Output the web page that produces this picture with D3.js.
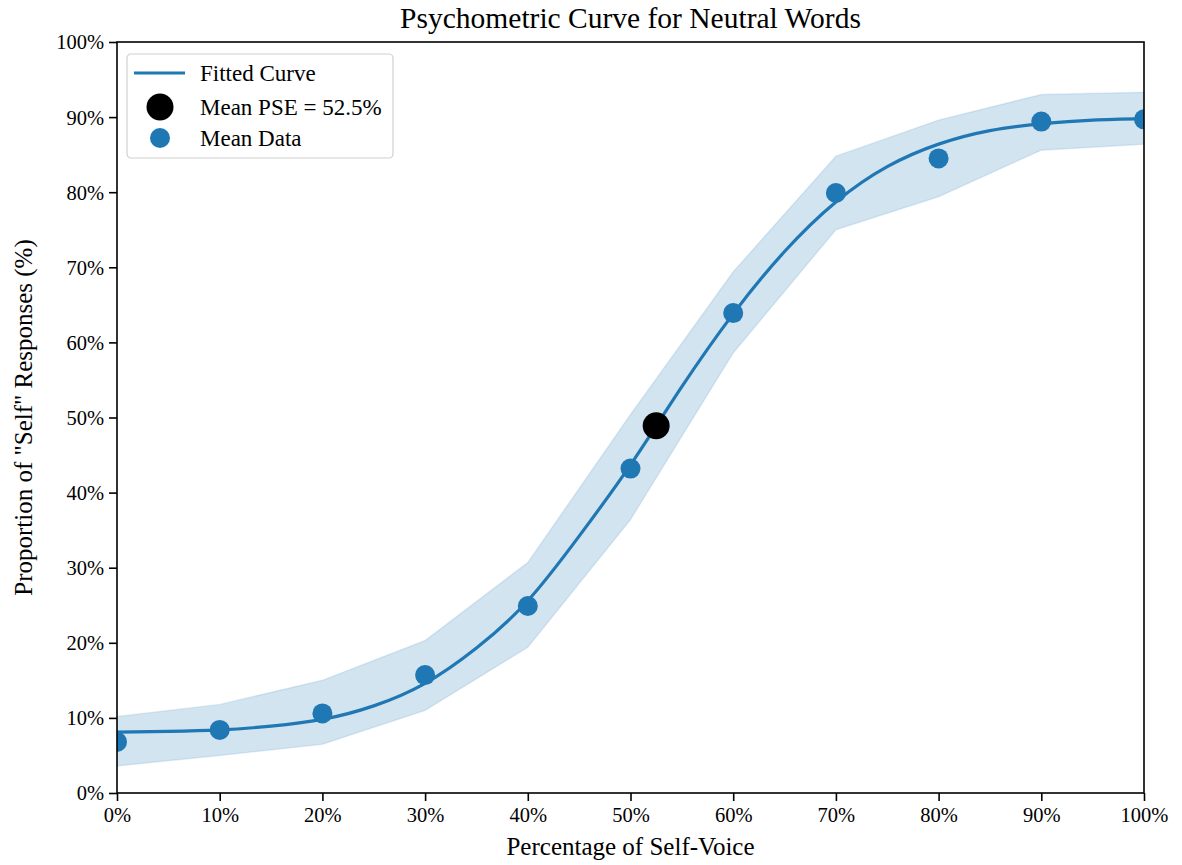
<!DOCTYPE html>
<html>
<head>
<meta charset="utf-8">
<script src="https://cdn.jsdelivr.net/npm/d3@7"></script>
<style>
  body { margin: 0; background: #fff; }
  svg text { font-family: "Liberation Serif", "Times New Roman", serif; fill: #000; }
</style>
</head>
<body>
<div id="chart"></div>
<script>
// Stimulus levels (percentage of self-voice)
var levels = [0, 10, 20, 30, 40, 50, 60, 70, 80, 90, 100];
// Mean proportion of "self" responses at each level
var meanData = [6.8, 8.4, 10.6, 15.7, 24.9, 43.2, 63.9, 79.9, 84.5, 89.4, 89.7];
// Confidence band around the curve
var bandUpper = [10.2, 11.8, 15.0, 20.3, 30.7, 50.4, 69.4, 84.8, 89.6, 93.0, 93.3];
var bandLower = [3.6, 5.0, 6.5, 11.0, 19.4, 36.4, 58.6, 75.0, 79.4, 85.6, 86.4];
// Fitted curve
var fitX = [0, 5, 10, 15, 20, 25, 30, 35, 40, 45, 50, 55, 60, 65, 70, 75, 80, 85, 90, 95, 100];
var fitY = [8.1, 8.2, 8.4, 8.9, 9.8, 11.6, 14.6, 19.3, 25.6, 34.2, 43.7, 54.1, 63.8, 72.1, 78.7, 83.4, 86.4, 88.2, 89.1, 89.6, 89.8];
// Point of subjective equality
var pseX = 52.5, pseY = 48.9;
var ticks = [0, 10, 20, 30, 40, 50, 60, 70, 80, 90, 100];

var svgWidth = 1182;
var svgHeight = 865;
var margin = { top: 42, right: 38, bottom: 72, left: 117 };
var chartWidth = svgWidth - margin.left - margin.right;
var chartHeight = svgHeight - margin.top - margin.bottom;
var blue = "#1f77b4";

var svg = d3.select("#chart")
  .append("svg")
  .attr("width", svgWidth)
  .attr("height", svgHeight);

var chartGroup = svg.append("g")
  .attr("transform", `translate(${margin.left}, ${margin.top})`);

chartGroup.append("clipPath")
  .attr("id", "plot-clip")
  .append("rect")
  .attr("width", chartWidth)
  .attr("height", chartHeight);

var xScale = d3.scaleLinear().domain([0, 100]).range([0, chartWidth]);
var yScale = d3.scaleLinear().domain([0, 100]).range([chartHeight, 0]);

var plot = chartGroup.append("g").attr("clip-path", "url(#plot-clip)");

// band
var area = d3.area()
  .x((d, i) => xScale(levels[i]))
  .y0((d, i) => yScale(bandLower[i]))
  .y1((d, i) => yScale(bandUpper[i]));

plot.append("path")
  .datum(levels)
  .attr("d", area)
  .attr("fill", blue)
  .attr("fill-opacity", 0.2)
  .attr("stroke", blue)
  .attr("stroke-opacity", 0.12)
  .attr("stroke-width", 1.5);

// fitted curve
var line = d3.line()
  .x(d => xScale(d[0]))
  .y(d => yScale(d[1]))
  .curve(d3.curveNatural);

plot.append("path")
  .datum(fitX.map((x, i) => [x, fitY[i]]))
  .attr("d", line)
  .attr("fill", "none")
  .attr("stroke", blue)
  .attr("stroke-width", 3.2);

// mean data points
plot.selectAll("circle.mean")
  .data(levels)
  .enter()
  .append("circle")
  .attr("class", "mean")
  .attr("cx", d => xScale(d))
  .attr("cy", (d, i) => yScale(meanData[i]))
  .attr("r", 10)
  .attr("fill", blue);

// PSE marker
plot.append("circle")
  .attr("cx", xScale(pseX))
  .attr("cy", yScale(pseY))
  .attr("r", 13.5)
  .attr("fill", "#000");

// axes
var bottomAxis = d3.axisBottom(xScale)
  .tickValues(ticks)
  .tickFormat(d => d + "%")
  .tickSizeOuter(0)
  .tickSize(8)
  .tickPadding(5);
var leftAxis = d3.axisLeft(yScale)
  .tickValues(ticks)
  .tickFormat(d => d + "%")
  .tickSizeOuter(0)
  .tickSize(8)
  .tickPadding(5);

var xAxis = chartGroup.append("g")
  .attr("transform", `translate(0, ${chartHeight})`)
  .call(bottomAxis);
var yAxis = chartGroup.append("g")
  .call(leftAxis);

[xAxis, yAxis].forEach(function(ax) {
  ax.select(".domain").remove();
  ax.selectAll("line").attr("stroke", "#000").attr("stroke-width", 1.6);
  ax.selectAll("text")
    .attr("fill", "#000")
    .style("font-size", "20.5px")
    .style("font-family", "'Liberation Serif', serif");
});
yAxis.selectAll("text").attr("dy", "0.34em");
xAxis.selectAll("text").attr("dy", "0.76em");

// frame
chartGroup.append("rect")
  .attr("width", chartWidth)
  .attr("height", chartHeight)
  .attr("fill", "none")
  .attr("stroke", "#000")
  .attr("stroke-width", 1.6);

// title and labels
svg.append("text")
  .attr("x", margin.left + chartWidth / 2)
  .attr("y", 27.5)
  .attr("text-anchor", "middle")
  .style("font-size", "29.5px")
  .text("Psychometric Curve for Neutral Words");

svg.append("text")
  .attr("x", margin.left + chartWidth / 2)
  .attr("y", 855)
  .attr("text-anchor", "middle")
  .style("font-size", "25px")
  .text("Percentage of Self-Voice");

svg.append("text")
  .attr("transform", `translate(32, ${margin.top + chartHeight / 2}) rotate(-90)`)
  .attr("text-anchor", "middle")
  .style("font-size", "25px")
  .text("Proportion of \"Self\" Responses (%)");

// legend
var legend = chartGroup.append("g")
  .attr("transform", "translate(10, 12)");

legend.append("rect")
  .attr("width", 266)
  .attr("height", 104)
  .attr("rx", 4)
  .attr("fill", "#fff")
  .attr("fill-opacity", 0.8)
  .attr("stroke", "#d0d0d0")
  .attr("stroke-width", 1.2);

legend.append("line")
  .attr("x1", 7).attr("x2", 58)
  .attr("y1", 19).attr("y2", 19)
  .attr("stroke", blue)
  .attr("stroke-width", 3.2);

legend.append("circle")
  .attr("cx", 33).attr("cy", 53).attr("r", 13.5)
  .attr("fill", "#000");

legend.append("circle")
  .attr("cx", 33).attr("cy", 84).attr("r", 10)
  .attr("fill", blue);

var legendLabels = ["Fitted Curve", "Mean PSE = 52.5%", "Mean Data"];
var legendY = [19, 53, 84];
legend.selectAll("text.lab")
  .data(legendLabels)
  .enter()
  .append("text")
  .attr("class", "lab")
  .attr("x", 73)
  .attr("y", (d, i) => legendY[i])
  .attr("dy", "0.35em")
  .style("font-size", "23px")
  .text(d => d);
</script>
</body>
</html>
